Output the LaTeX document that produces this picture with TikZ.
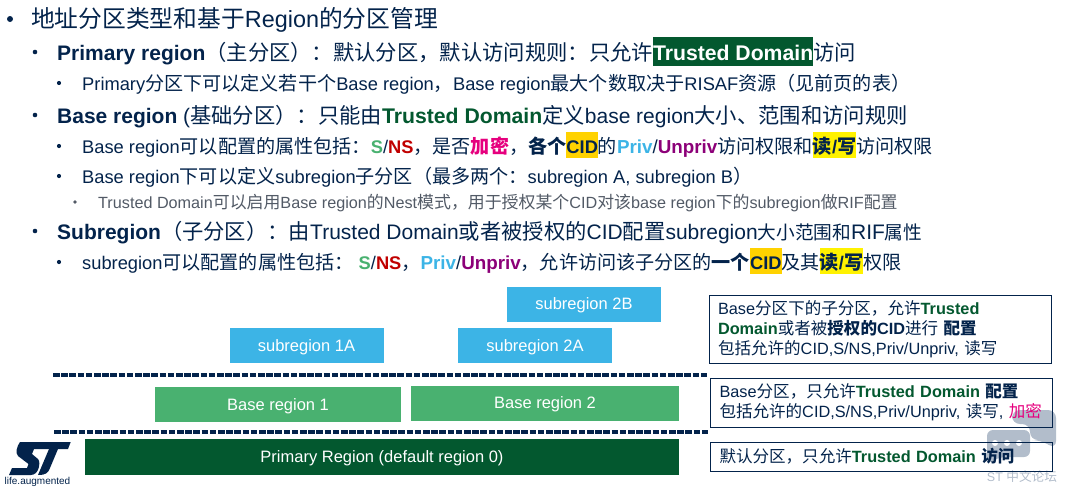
\documentclass[tikz,border=0pt]{standalone}
\usepackage{fontspec}
\usepackage{xcolor}
\setmainfont{Liberation Sans}
\newfontfamily\cjk[Scale=1.015]{Noto Sans CJK SC}
\newfontfamily\cjkwide[Scale=1.044]{Noto Sans CJK SC}

\definecolor{stnavy}{HTML}{03234B}
\definecolor{stdark}{HTML}{03582F}
\definecolor{stgreen}{HTML}{49B170}
\definecolor{stblue}{HTML}{3CB4E6}
\definecolor{stred}{HTML}{C00000}
\definecolor{stpink}{HTML}{E6007E}
\definecolor{stpurple}{HTML}{8C0078}
\definecolor{stgold}{HTML}{FFD200}
\definecolor{stgray}{HTML}{525A66}
\definecolor{stmark}{HTML}{B2BDCB}

\setlength{\fboxsep}{0pt}
\newcommand{\zh}[1]{{\cjk #1}}
\newcommand{\zhb}[1]{{\cjk\bfseries #1}}
\newcommand{\hlbox}[2]{\colorbox{#1}{\rule[-5pt]{0pt}{26pt}#2}}
\newcommand{\tdom}{\textcolor{stdark}{\textbf{Trusted Domain}}}
\newcommand{\sns}{\textcolor{stgreen}{\textbf{S}}/\textcolor{stred}{\textbf{NS}}}
\newcommand{\priv}{{\fontsize{18.8}{22}\selectfont\textcolor{stblue}{\textbf{Priv}}/\textcolor{stpurple}{\textbf{Unpriv}}}}
\newcommand{\rw}{\hlbox{yellow}{\zhb{读}\textbf{/}\zhb{写}}}
\newcommand{\cid}{\hlbox{stgold}{\textbf{CID}}}

\tikzset{
    rowtitle/.style={anchor=base west,inner sep=0pt,text=stnavy,font=\fontsize{23.4}{28}\selectfont},
    rowone/.style={anchor=base west,inner sep=0pt,text=stnavy,font=\fontsize{21}{25}\selectfont},
    rowtwo/.style={anchor=base west,inner sep=0pt,text=stnavy,font=\fontsize{18.3}{22}\selectfont\let\cjk\cjkwide},
    rowthree/.style={anchor=base west,inner sep=0pt,text=stgray,font=\fontsize{16.2}{20}\selectfont\let\cjk\cjkwide},
    subbox/.style={fill=stblue,text=white,minimum width=154pt,minimum height=35pt,inner sep=0pt,text height=13.5pt,text depth=2.5pt,font=\fontsize{16.5}{20}\selectfont},
    basebox/.style={subbox,fill=stgreen,minimum width=246pt},
    notebox/.style={draw=stnavy,line width=1pt,text=stnavy,align=left,inner xsep=9pt,inner ysep=0pt,text width=324pt,minimum width=342pt,font=\fontsize{16.3}{20}\selectfont},
    sepline/.style={draw=stnavy,line width=3.4pt,dash pattern=on 6.6pt off 1.6pt},
}

\begin{document}
\begin{tikzpicture}[x=1pt,y=-1pt]
    \useasboundingbox (0,0) rectangle (1065,493);

    % watermark
    \fill[stmark,rounded corners=8pt] (1012,410) -- (1056,410) -- (1056,449) -- (1040,440) -- (1030,440) -- (1030,424) -- (1012,424) -- cycle;
    \fill[stmark,rounded corners=6pt] (987,430) -- (1030,430) -- (1030,457) -- (1000,457) -- (987,464) -- cycle;
    \foreach \x in {995,1007,1019}
        \fill[white] (\x,443) circle (3);
    \node[text=stmark,inner sep=0pt,font=\fontsize{12.5}{15}\selectfont] (mark) at (1022,477) {ST \zh{中文论坛}};

    % logo
    \fill[stnavy] (20,442) -- (52,442) -- (49,449) -- (34,449) -- (32,454) -- (38,459) .. controls (41,462) and (39,475) .. (31,475) -- (9,475) -- (12,468) -- (27,468) -- (28.5,464) -- (18,456) .. controls (15,453) and (17,446) .. cycle;
    \fill[stnavy] (50,442) -- (70.7,442) -- (68,449) -- (58,449) -- (50,468) .. controls (48,473) and (46,475) .. (38,475) -- (49,449) -- cycle;
    \node[text=stnavy,inner sep=0pt,font=\fontsize{10}{12}\selectfont] (tagline) at (37.5,482) {life.augmented};

    % bullets
    \foreach \x/\y/\r in {10/19/3,35/52/2.3,59/83/2.1,35/115/2.3,59/146/2.1,59/176/2.1,35/231/2.3,59/262/2.1}
        \fill[stnavy] (\x,\y) circle (\r);
    \fill[stgray] (75,202) circle (1.9);

    % text rows
    \node[rowtitle] (title) at (31,27) {\zh{地址分区类型和基于}Region\zh{的分区管理}};
    \node[rowone] (rprimary) at (57,60) {\textbf{Primary region}\zh{（主分区）：默认分区，默认访问规则：只允许}\colorbox{stdark}{\rule[-6pt]{0pt}{29pt}\fontsize{21.2}{25}\selectfont\textcolor{white}{\textbf{Trusted Domain}}}\zh{访问}};
    \node[rowtwo] (rprimarysub) at (82,90) {Primary\zh{分区下可以定义若干个}Base region\zh{，}Base region\zh{最大个数取决于}RISAF\zh{资源（见前页的表）}};
    \node[rowone] (rbase) at (57,123) {\textbf{Base region} (\zh{基础分区）：只能由}{\fontsize{21.2}{25}\selectfont\tdom}\zh{定义}base region\zh{大小、范围和访问规则}};
    \node[rowtwo] (rbasea) at (82,153) {Base region\zh{可以配置的属性包括：}\sns\zh{，是否}\textcolor{stpink}{\zhb{加密}}\zh{，}\zhb{各个}\cid\zh{的}\priv\zh{访问权限和}\rw\zh{访问权限}};
    \node[rowtwo] (rbaseb) at (82,183) {Base region\zh{下可以定义}subregion\zh{子分区（最多两个：}subregion A, subregion B\zh{）}};
    \node[rowthree] (rnest) at (98,208) {Trusted Domain\zh{可以启用}Base region\zh{的}Nest\zh{模式，用于授权某个}CID\zh{对该}base region\zh{下的}subregion\zh{做}RIF\zh{配置}};
    \node[rowone] (rsub) at (57,239) {\textbf{Subregion}\zh{（子分区）：由}Trusted Domain\zh{或者被授权的}CID\zh{配置}subregion{\fontsize{18.4}{25}\selectfont\zh{大小范围和}}RIF{\fontsize{18.4}{25}\selectfont\zh{属性}}};
    \node[rowtwo] (rsuba) at (82,269) {subregion\zh{可以配置的属性包括：} \sns\zh{，}\priv\zh{，允许访问该子分区的}\zhb{一个}\cid\zh{及其}\rw\zh{权限}};

    % regions
    \node[subbox] (sub2b) at (584,304) {subregion 2B};
    \node[subbox] (sub1a) at (306.5,345.5) {subregion 1A};
    \node[subbox] (sub2a) at (535,345.5) {subregion 2A};
    \node[basebox] (base1) at (278,404.5) {Base region 1};
    \node[basebox,minimum width=268pt] (base2) at (545,403) {Base region 2};
    \node[basebox,fill=stdark,minimum width=594pt,minimum height=36pt] (primary) at (382,457) {Primary Region (default region 0)};

    % separators
    \coordinate (sepa) at (53,375);
    \coordinate (sepb) at (708,375);
    \coordinate (sepc) at (54,432);
    \coordinate (sepd) at (709,432);
    \draw[sepline] (sepa) -- (sepb);
    \draw[sepline] (sepc) -- (sepd);

    % notes
    \node[notebox,minimum height=68pt] (notesub) at (880,329) {Base\zh{分区下的子分区，允许}\textcolor{stdark}{\textbf{Trusted}}\\\textcolor{stdark}{\textbf{Domain}}\zh{或者被}\zhb{授权的}\textbf{CID}\zh{进行} \zhb{配置}\\\zh{包括允许的}CID,S/NS,Priv/Unpriv, \zh{读写}};
    \node[notebox,minimum width=341pt,minimum height=49pt] (notebase) at (881.5,402.5) {Base\zh{分区，只允许}\tdom{} \zhb{配置}\\\zh{包括允许的}CID,S/NS,Priv/Unpriv, \zh{读写}, \textcolor{stpink}{\zh{加密}}};
    \node[notebox,minimum width=341pt,minimum height=29pt] (noteprimary) at (881.5,456.5) {\zh{默认分区，只允许}\tdom{} \zhb{访问}};
\end{tikzpicture}
\end{document}
